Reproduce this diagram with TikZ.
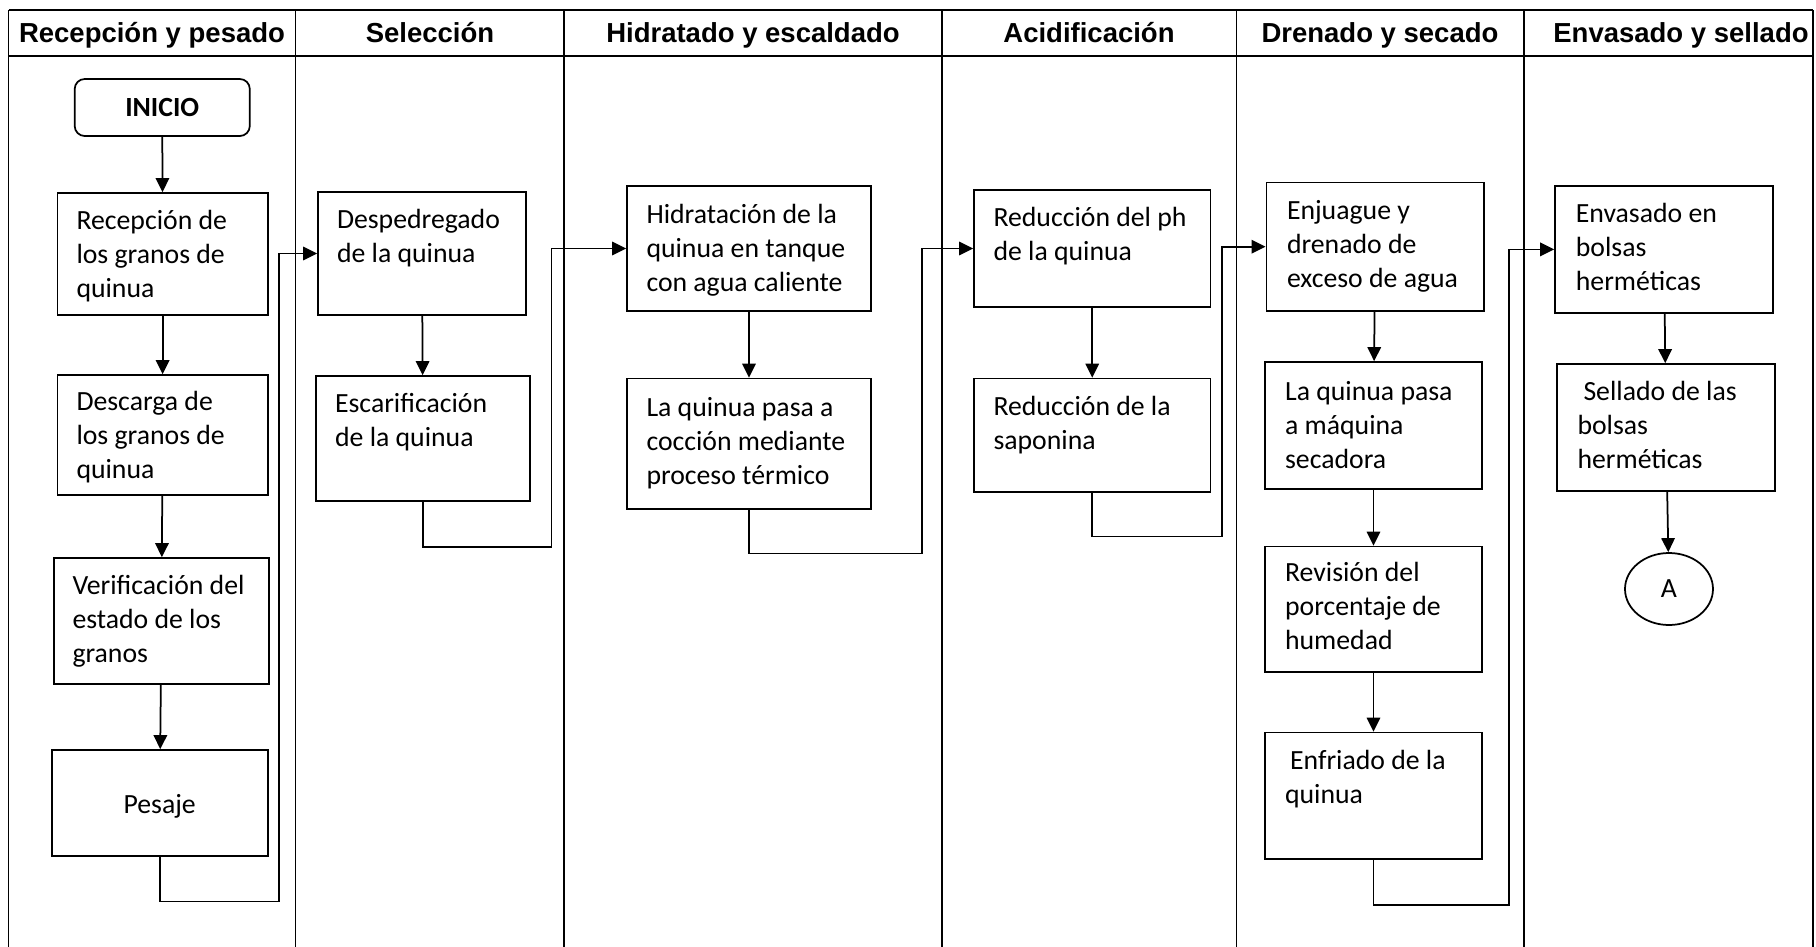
\documentclass[tikz,border=0pt]{standalone}
\usepackage{fontspec}
\setmainfont{Carlito}
\newfontfamily\headfont{Liberation Sans}
\usetikzlibrary{arrows.meta,fit,shapes.geometric}

\tikzset{
  lane/.style={line width=0.5pt},
  box/.style={draw, rectangle, line width=0.7pt, inner sep=0pt},
  body/.style={font=\fontsize{11.1pt}{13.6pt}\selectfont},
  txt/.style={body, inner sep=0pt, anchor=north west, align=left,
    yshift=-1.6pt, execute at begin node=\strut},
  ctxt/.style={body, inner sep=0pt, anchor=base},
  head/.style={inner sep=0pt, anchor=base,
    font=\headfont\bfseries\fontsize{11pt}{13pt}\selectfont},
  flow/.style={line width=0.7pt, -{Triangle[length=5.6pt,width=5.4pt]}},
}

\begin{document}
\begin{tikzpicture}[x=0.4pt,y=-0.4pt]
\useasboundingbox (0,0) rectangle (1816,947);

% swimlane frame
\draw[lane] (8.6,10) -- (1813,10);
\draw[lane] (8.6,56) -- (1813,56);
\foreach \x in {8.6,295.7,564,942,1236.6,1524,1813}
  \draw[lane] (\x,10) -- (\x,947);

% lane titles
\node[head] (hd1) at (152,42.7) {Recepción y pesado};
\node[head] (hd2) at (430,42.7) {Selección};
\node[head] (hd3) at (753,42.7) {Hidratado y escaldado};
\node[head] (hd4) at (1089,42.7) {Acidificación};
\node[head] (hd5) at (1380,42.7) {Drenado y secado};
\node[head] (hd6) at (1681,42.7) {Envasado y sellado};

% lane 1: reception and weighing
\node[box, rounded corners=4pt, fit={(74.7,79) (249.8,136)}] (ini) {};
\node[ctxt, font=\bfseries\fontsize{11.1pt}{13.6pt}\selectfont] at (162.25,116.7) {INICIO};
\node[box, fit={(57.6,193) (267.7,315)}] (r1) {};
\node[txt] at (76,205.7) {Recepción de\\los granos de\\quinua};
\node[box, fit={(57.6,375) (267.7,495)}] (r2) {};
\node[txt] at (76,386.7) {Descarga de\\los granos de\\quinua};
\node[box, fit={(53.7,558) (269.2,684)}] (r3) {};
\node[txt] at (72,570.7) {Verificación del\\estado de los\\granos};
\node[box, fit={(51.7,750) (267.7,856)}] (r4) {};
\node[ctxt] at (159.7,813) {Pesaje};

% lane 2: selection
\node[box, fit={(318,192) (526,315)}] (s1) {};
\node[txt] at (336.5,204.7) {Despedregado\\de la quinua};
\node[box, fit={(316,376) (530,501)}] (s2) {};
\node[txt] at (334.6,388.7) {Escarificación\\de la quinua};

% lane 3: hydration and blanching
\node[box, fit={(627,186) (871,311)}] (h1) {};
\node[txt] at (646,199.7) {Hidratación de la\\quinua en tanque\\con agua caliente};
\node[box, fit={(627,378.6) (871,509)}] (h2) {};
\node[txt] at (646,392.7) {La quinua pasa a\\cocción mediante\\proceso térmico};

% lane 4: acidification
\node[box, fit={(974,190) (1210.5,307)}] (a1) {};
\node[txt] at (993,202.7) {Reducción del ph\\de la quinua};
\node[box, fit={(974,378.6) (1210.5,492)}] (a2) {};
\node[txt] at (993,391.7) {Reducción de la\\saponina};

% lane 5: draining and drying
\node[box, fit={(1266.4,182.4) (1484,311)}] (d1) {};
\node[txt] at (1286.5,195.7) {Enjuague y\\drenado de\\exceso de agua};
\node[box, fit={(1265,362) (1482,489)}] (d2) {};
\node[txt] at (1284.6,376.7) {La quinua pasa\\a máquina\\secadora};
\node[box, fit={(1265,546.6) (1482,672)}] (d3) {};
\node[txt] at (1284.6,558.2) {Revisión del\\porcentaje de\\humedad};
\node[box, fit={(1265,732.6) (1482,858.8)}] (d4) {};
\node[txt] at (1284.6,745.5) {\hspace*{2pt}Enfriado de la\\quinua};

% lane 6: packing and sealing
\node[box, fit={(1555,186) (1773,312.8)}] (e1) {};
\node[txt] at (1575.4,198.7) {Envasado en\\bolsas\\herméticas};
\node[box, fit={(1557,364) (1775,491)}] (e2) {};
\node[txt] at (1577,377.1) {\hspace*{2.4pt}Sellado de las\\bolsas\\herméticas};
\node[draw, ellipse, line width=0.7pt, inner sep=0pt, body,
      minimum width=35.2pt, minimum height=28.8pt] (fin) at (1669,589) {A};

% flow connectors
\coordinate (k1) at (279.3,901.6);
\coordinate (k2) at (551.6,547);
\coordinate (k3) at (921.8,553.6);
\coordinate (k4) at (1222,536.4);
\coordinate (k5) at (1508.9,904.7);

\draw[flow] (ini) -- (r1);
\draw[flow] (r1) -- (r2);
\draw[flow] (r2) -- (r3);
\draw[flow] (r3) -- (r4);
\draw[flow] (r4.south) |- (k1) |- (s1.west);
\draw[flow] (s1) -- (s2);
\draw[flow] (s2.south) |- (k2) |- (h1.west);
\draw[flow] (h1) -- (h2);
\draw[flow] (h2.south) |- (k3) |- (a1.west);
\draw[flow] (a1) -- (a2);
\draw[flow] (a2.south) |- (k4) |- (d1.west);
\draw[flow] (d1) -- (d2);
\draw[flow] (d2) -- (d3);
\draw[flow] (d3) -- (d4);
\draw[flow] (d4.south) |- (k5) |- (e1.west);
\draw[flow] (e1) -- (e2);
\draw[flow] (e2) -- (fin);
\end{tikzpicture}
\end{document}
